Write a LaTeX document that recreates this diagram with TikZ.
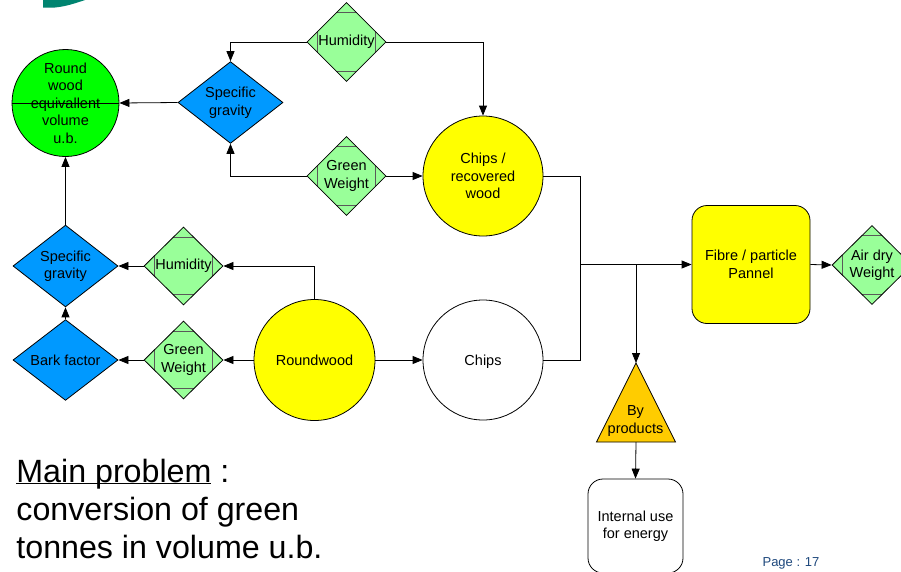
\documentclass[tikz,border=0pt]{standalone}
\usepackage{fontspec}
\setmainfont{Liberation Sans}
\usetikzlibrary{shapes.geometric,arrows.meta,calc}
\definecolor{bgreen}{RGB}{0,255,0}
\definecolor{sblue}{RGB}{0,153,255}
\definecolor{lgreen}{RGB}{153,255,153}
\definecolor{yel}{RGB}{255,255,0}
\definecolor{orng}{RGB}{255,204,0}
\definecolor{tealc}{RGB}{0,132,112}
\definecolor{pageblue}{RGB}{31,73,125}
\begin{document}
\begin{tikzpicture}[x=1pt,y=-1pt,
  every node/.style={font=\fontsize{14.5}{17.5}\selectfont, align=center, inner sep=0pt},
  line width=0.8pt,
  >={Triangle[length=10pt,width=8pt]},
  sgd/.style={diamond, draw, fill=sblue, minimum width=105pt, minimum height=79pt},
  lgd/.style={diamond, draw, fill=lgreen, minimum width=79pt, minimum height=79pt,
    path picture={\draw[line width=0.7pt, black!65]
      ([yshift=-10pt]path picture bounding box.north west) -- ([yshift=-10pt]path picture bounding box.north east)
      ([yshift=10pt]path picture bounding box.south west) -- ([yshift=10pt]path picture bounding box.south east)
      ([xshift=10pt]path picture bounding box.north west) -- ([xshift=10pt]path picture bounding box.south west)
      ([xshift=-10pt]path picture bounding box.north east) -- ([xshift=-10pt]path picture bounding box.south east);}},
  circ/.style={circle, draw, minimum size=120pt},
  conn/.style={->}
]
\clip (0,0) rectangle (901,571);
\fill[white] (0,0) rectangle (901,571);
% logo remnant
\fill[tealc] (43,0) -- (43,7.5) -- (55,7.5) .. controls (66,6.5) and (76,3) .. (85,0) -- cycle;

% nodes
\node[circle, draw, fill=bgreen, minimum size=107pt] (rw) at (65.5,103) {};
\draw (rw.west) -- (rw.east);
\node (rwt) at (rw.center) {Round\\wood\\equivallent\\volume\\u.b.};
\node[sgd] (sg1) at (230.5,102.5) {Specific\\gravity};
\node[lgd] (hum1) at (346.5,42) {Humidity};
\node[lgd] (gw1) at (346.5,176) {Green\\Weight};
\node[circ, fill=yel] (crw) at (483,176) {Chips /\\recovered\\wood};
\node[sgd, minimum height=78pt] (sg2) at (65.5,266) {Specific\\gravity};
\node[sgd, minimum height=78pt] (bark) at (65.5,360) {Bark factor};
\node[lgd, minimum height=78pt] (hum2) at (183.5,266) {Humidity};
\node[lgd, minimum height=78pt] (gw2) at (183.5,360) {Green\\Weight};
\node[circ, fill=yel, minimum size=121pt] (rwd) at (314.5,360) {Roundwood};
\node[circ, fill=white] (chips) at (483,360) {};
\node (chipst) at (483,361.5) {Chips};
\node[draw, fill=yel, rounded corners=15pt, minimum width=118pt, minimum height=118pt] (fib) at (751,264.5) {Fibre / particle\\Pannel};
\node[lgd, minimum width=80pt] (adw) at (872,265) {Air dry\\Weight};
% by products triangle
\coordinate (bpTop) at (636,363);
\coordinate (bpBot) at (636,442);
\filldraw[fill=orng] (bpTop) -- (675.5,442) -- (596.5,442) -- cycle;
\node (bpt) at (635.5,421) {By\\products};
\node[draw, rounded corners=15pt, minimum width=95pt, minimum height=94pt] (int) at (635.5,526) {Internal use\\for energy};

% connectors
\draw[->] (hum1.west) -| (sg1.north);
\draw[->] (hum1.east) -| (crw.north);
\draw[->] (gw1.west) -| (sg1.south);
\draw[->] (gw1.east) -- (crw.west);
\draw[->] (sg1.west) -- (rw.east);
\draw[->] (sg2.north) -- (rw.south);
\draw[->] (bark.north) -- (sg2.south);
\draw[->] (hum2.west) -- (sg2.east);
\draw[->] (gw2.west) -- (bark.east);
\draw[->] (rwd.north) |- (hum2.east);
\draw[->] (rwd.west) -- (gw2.east);
\draw[->] (rwd.east) -- (chips.west);
\coordinate (jn) at (580.5,264.5);
\coordinate (br) at (636,264.5);
\draw (crw.east) -| (jn);
\draw (chips.east) -| (jn);
\draw[->] (jn) -- (fib.west);
\draw[->] (br) -- (bpTop);
\draw[->] (fib.east) -- (adw.west);
\draw[->] (bpBot) -- (int.north);

% texts
\node[anchor=north west, align=left, font=\fontsize{32.2}{38}\selectfont] (mp) at (16,459.5) {\underline{\vphantom{M}\smash{Main problem}} :\\conversion of green\\tonnes in volume u.b.};
\node[font=\fontsize{13}{15}\selectfont, text=pageblue] (pg) at (791,563) {Page : 17};
\end{tikzpicture}
\end{document}
